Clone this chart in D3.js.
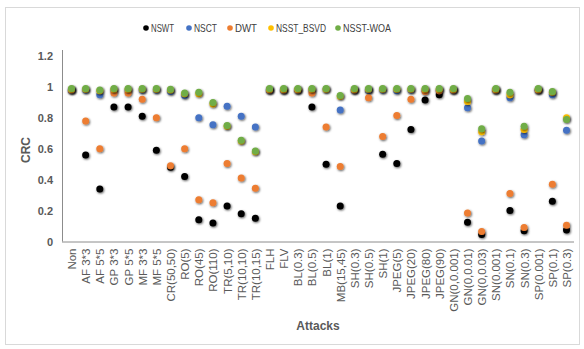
<!DOCTYPE html>
<html>
<head>
<meta charset="utf-8">
<script src="https://cdn.jsdelivr.net/npm/d3@7"></script>
<style>
  html, body { margin: 0; padding: 0; background: #fff; }
  svg { display: block; }
  text { font-family: "Liberation Sans", Arial, sans-serif; }
</style>
</head>
<body>
<svg id="chart" width="584" height="349"></svg>
<script>
// Attack conditions along the x axis
const categories = [
  "Non", "AF 3*3", "AF 5*5", "GP 3*3", "GP 5*5", "MF 3*3", "MF 5*5", "CR(50,50)",
  "RO(5)", "RO(45)", "RO(110)", "TR(5,10)", "TR(10,10)", "TR(10,15)", "FLH", "FLV",
  "BL(0.3)", "BL(0.5)", "BL(1)", "MB(15,45)", "SH(0.3)", "SH(0.5)", "SH(1)",
  "JPEG(5)", "JPEG(20)", "JPEG(80)", "JPEG(90)", "GN(0,0.001)", "GN(0,0.01)",
  "GN(0,0.03)", "SN(0.001)", "SN(0.1)", "SN(0.3)", "SP(0.001)", "SP(0.1)", "SP(0.3)"
];

// CRC per method, one value per attack
const nswt = [0.98, 0.56, 0.34, 0.87, 0.87, 0.81, 0.59, 0.48, 0.42, 0.14, 0.12, 0.23, 0.18, 0.15, 0.98, 0.98,
  0.98, 0.87, 0.50, 0.23, 0.98, 0.98, 0.565, 0.505, 0.725, 0.915, 0.95, 0.98, 0.125, 0.045, 0.98, 0.20, 0.07,
  0.98, 0.26, 0.075];
const nsct = [0.98, 0.98, 0.95, 0.98, 0.98, 0.98, 0.98, 0.97, 0.945, 0.80, 0.755, 0.875, 0.81, 0.74, 0.98, 0.98,
  0.98, 0.98, 0.985, 0.85, 0.98, 0.98, 0.98, 0.975, 0.98, 0.98, 0.98, 0.98, 0.865, 0.65, 0.98, 0.93, 0.69,
  0.98, 0.95, 0.72];
const dwt = [0.98, 0.78, 0.60, 0.96, 0.96, 0.92, 0.80, 0.49, 0.60, 0.27, 0.25, 0.505, 0.41, 0.345, 0.98, 0.98,
  0.98, 0.96, 0.74, 0.485, 0.98, 0.93, 0.68, 0.815, 0.92, 0.97, 0.975, 0.98, 0.185, 0.065, 0.98, 0.31, 0.09,
  0.98, 0.37, 0.105];
const nsstBsvd = [0.985, 0.985, 0.975, 0.985, 0.985, 0.985, 0.985, 0.98, 0.955, 0.955, 0.89, 0.745, 0.65, 0.58, 0.985, 0.985,
  0.985, 0.985, 0.985, 0.94, 0.985, 0.985, 0.985, 0.985, 0.985, 0.985, 0.985, 0.985, 0.905, 0.71, 0.985, 0.95, 0.725,
  0.985, 0.965, 0.80];
const nsstWoa = [0.99, 0.99, 0.98, 0.99, 0.99, 0.99, 0.99, 0.985, 0.96, 0.965, 0.90, 0.75, 0.655, 0.585, 0.99, 0.99,
  0.99, 0.99, 0.99, 0.945, 0.99, 0.99, 0.99, 0.99, 0.99, 0.99, 0.99, 0.99, 0.925, 0.73, 0.99, 0.965, 0.745,
  0.99, 0.97, 0.79];

const yTicks = [0, 0.2, 0.4, 0.6, 0.8, 1, 1.2];

const series = [
  { name: "NSWT", values: nswt, color: "#000000" },
  { name: "NSCT", values: nsct, color: "#4472C4" },
  { name: "DWT", values: dwt, color: "#ED7D31" },
  { name: "NSST_BSVD", values: nsstBsvd, color: "#FFC000" },
  { name: "NSST-WOA", values: nsstWoa, color: "#70AD47" }
];

const svg = d3.select("#chart");

// soft drop shadow under each marker
const defs = svg.append("defs");
const f = defs.append("filter").attr("id", "shadow")
  .attr("x", "-100%").attr("y", "-100%").attr("width", "300%").attr("height", "300%");
f.append("feDropShadow").attr("dx", 0.8).attr("dy", 1).attr("stdDeviation", 1.3)
  .attr("flood-color", "#000").attr("flood-opacity", 0.65);

// outer frame
svg.append("rect").attr("x", 5.5).attr("y", 7.5).attr("width", 574).attr("height", 337)
  .attr("fill", "none").attr("stroke", "#d9d9d9");

const plotLeft = 62, plotRight = 574, plotTop = 56, plotBottom = 241.5;

const x = d3.scalePoint().domain(categories).range([71.5, 566.5]);
const y = d3.scaleLinear().domain([0, 1.2]).range([plotBottom, plotTop]);

// y axis
const yAxis = svg.append("g").attr("transform", `translate(${plotLeft},0)`)
  .call(d3.axisLeft(y).tickValues(yTicks).tickSize(0).tickPadding(9)
    .tickFormat(d => d === 0 ? "0" : String(d)));
yAxis.select(".domain").attr("stroke", "#8c8c8c").attr("d", `M0.5,${plotTop - 6}V${plotBottom}`);
yAxis.selectAll("text").attr("fill", "#595959").attr("font-size", 11).attr("font-weight", "bold");

// x axis
const xAxis = svg.append("g").attr("transform", `translate(0,${plotBottom})`)
  .call(d3.axisBottom(x).tickSize(0));
xAxis.select(".domain").attr("stroke", "#8c8c8c").attr("d", `M${plotLeft},0.5H${plotRight}`);
xAxis.selectAll("text")
  .attr("fill", "#595959").attr("font-size", 11.5)
  .attr("text-anchor", "end")
  .attr("transform", "rotate(-90)")
  .attr("x", -7).attr("y", 0).attr("dy", "0.35em");

// markers, first series at the bottom
series.forEach(s => {
  svg.append("g").attr("filter", "url(#shadow)")
    .selectAll("circle").data(s.values).join("circle")
    .attr("cx", (d, i) => x(categories[i]))
    .attr("cy", d => y(d))
    .attr("r", 3.5)
    .attr("fill", s.color);
});

// axis titles
svg.append("text").attr("x", 318).attr("y", 330).attr("text-anchor", "middle")
  .attr("font-size", 12).attr("font-weight", "bold").attr("fill", "#595959").text("Attacks");
svg.append("text").attr("transform", "translate(30,150) rotate(-90)").attr("text-anchor", "middle")
  .attr("font-size", 12).attr("font-weight", "bold").attr("fill", "#595959").text("CRC");

// legend: marker x position and label width for each entry
const legendX = [146, 189, 230, 271, 338];
const legendW = [23, 23, 22, 50, 48];
const legend = svg.append("g");
series.forEach((s, i) => {
  const g = legend.append("g").attr("transform", `translate(${legendX[i]},28)`);
  g.append("circle").attr("r", 2.8).attr("fill", s.color);
  g.append("text").attr("x", 5).attr("dy", "0.35em").attr("font-size", 10.5)
    .attr("textLength", legendW[i]).attr("lengthAdjust", "spacingAndGlyphs")
    .attr("fill", "#404040").text(s.name);
});
</script>
</body>
</html>
